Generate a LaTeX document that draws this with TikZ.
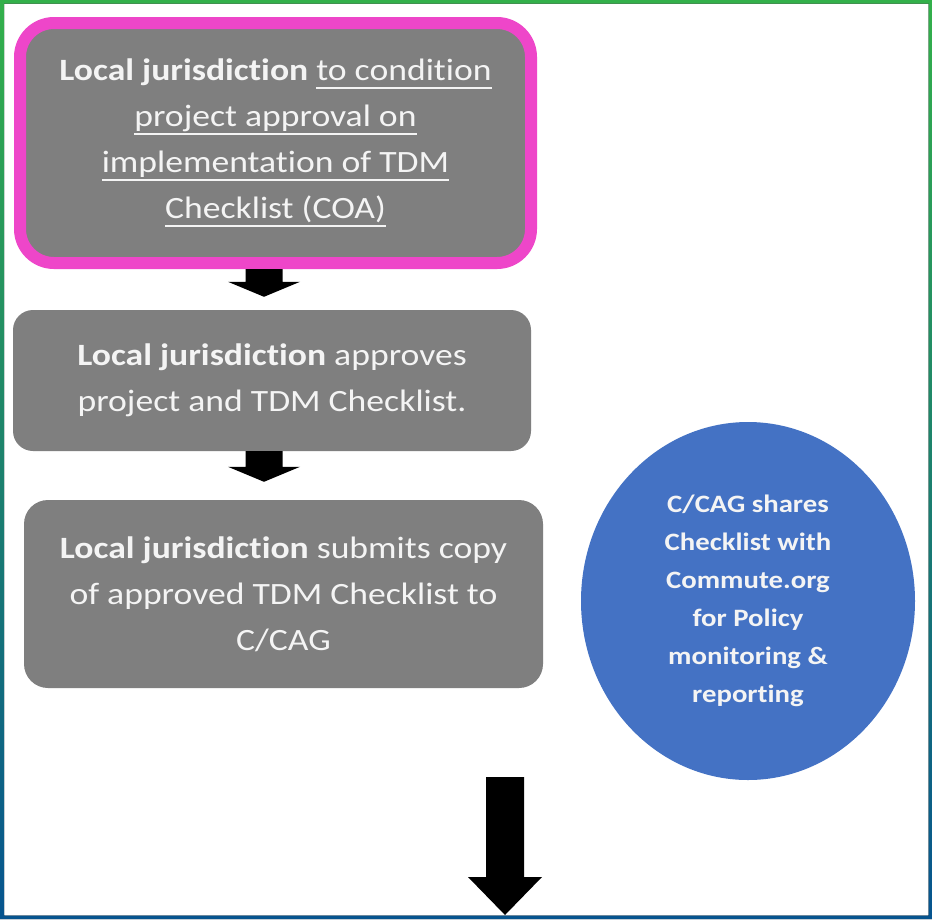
\documentclass[tikz,border=0pt]{standalone}
\usepackage{fontspec}
\setmainfont{Carlito}[FakeStretch=1.15, Ligatures=NoCommon]
\usetikzlibrary{shapes.geometric,calc}

\definecolor{boxgray}{HTML}{7F7F7F}
\definecolor{coapink}{HTML}{EE46C9}
\definecolor{ccagblue}{HTML}{4472C4}
\definecolor{framegreen}{HTML}{33B04A}
\definecolor{frameblue}{HTML}{06548F}
\definecolor{softwhite}{HTML}{F4F4F4}

% underline at a fixed depth below the baseline
\newcommand\ulline[1]{\setbox0\hbox{#1}\leavevmode
  \rlap{\vrule width\wd0 height -5.8pt depth 7.8pt}\box0}

% block arrow pointing down: start, tip, shaft half width, head half width, head length
\newcommand\downblock[5]{%
  \fill[black] let \p1=(#1), \p2=(#2) in
    (\x1-#3pt,\y1) -- (\x1+#3pt,\y1) -- (\x1+#3pt,\y2+#5pt) -- (\x1+#4pt,\y2+#5pt)
    -- (\x1,\y2) -- (\x1-#4pt,\y2+#5pt) -- (\x1-#3pt,\y2+#5pt) -- cycle;}

\tikzset{
  stepbox/.style={rectangle, fill=boxgray, text=softwhite, align=center,
    inner sep=0pt, font=\fontsize{31}{46}\selectfont},
  ccagcircle/.style={ellipse, fill=ccagblue, text=softwhite, align=center,
    inner sep=0pt, font=\bfseries\fontsize{25}{38}\selectfont},
}

\begin{document}
\begin{tikzpicture}[x=1pt, y=-1pt]
\useasboundingbox (0,0) rectangle (932,919);
\fill[white] (0,0) rectangle (932,919);

% gradient frame
\fill[even odd rule, top color=framegreen, bottom color=frameblue]
  (0,0) rectangle (932,919) (4,3.5) rectangle (928.5,915.5);

% process steps
\node[stepbox, draw=coapink, line width=12pt, rounded corners=34pt,
      minimum width=511pt, minimum height=240pt] (b1) at (275.5,143)
  {\textbf{Local jurisdiction} \ulline{to condition}\\
   \ulline{project approval on}\\
   \ulline{implementation of TDM}\\
   \ulline{Checklist (COA)}};

\node[stepbox, rounded corners=20pt, minimum width=518pt, minimum height=141pt]
  (b2) at (272,380.5)
  {\textbf{Local jurisdiction} approves\\ project and TDM Checklist.};

\node[stepbox, rounded corners=24pt, minimum width=519pt, minimum height=188pt]
  (b3) at (283.5,594)
  {\textbf{Local jurisdiction} submits copy\\ of approved TDM Checklist to\\ C/CAG};

\node[ccagcircle, minimum width=334pt, minimum height=358pt] (c) at (748,601)
  {C/CAG shares\\ Checklist with\\ Commute.org\\ for Policy\\ monitoring \&\\ reporting};

% arrows between steps
\coordinate (a1s) at ($(b1.south)+(-11.5,0)$);
\coordinate (a1e) at ($(b2.north)+(-8,-13)$);
\downblock{a1s}{a1e}{18.5}{36}{15}

\coordinate (a2s) at ($(b2.south)+(-8,0)$);
\coordinate (a2e) at ($(b3.north)+(-19.5,-18)$);
\downblock{a2s}{a2e}{18.5}{36}{15}

% link from submission step to C/CAG
\draw[line width=11pt] ($(b3.east)+(0,5)$) -- ($(b3.east)+(0,5)$ -| c.west);

% outgoing arrow
\coordinate (a3s) at (505,777);
\coordinate (a3e) at (505,915);
\downblock{a3s}{a3e}{19}{37}{38}
\end{tikzpicture}
\end{document}
